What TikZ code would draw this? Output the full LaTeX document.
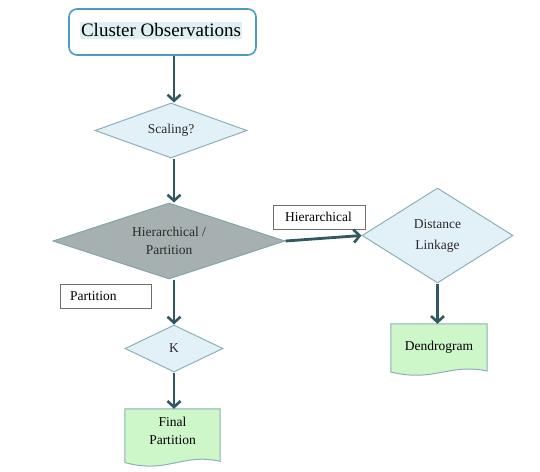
\documentclass[tikz,border=0pt]{standalone}
\usepackage{fontspec}
\setmainfont{Liberation Serif}
\usetikzlibrary{shapes.geometric,arrows.meta,calc}
\definecolor{arr}{HTML}{2F5863}
\definecolor{dfill}{HTML}{E2F1F7}
\definecolor{dborder}{HTML}{8EAFBA}
\definecolor{gfill}{HTML}{A6B0B0}
\definecolor{gborder}{HTML}{87A3A8}
\definecolor{docfill}{HTML}{CDF7C9}
\definecolor{titleborder}{HTML}{4D9CC0}
\definecolor{hl}{HTML}{DFF0F3}
\definecolor{labborder}{HTML}{6E6E6E}
\definecolor{txt}{HTML}{2A2A2A}
\begin{document}
\begin{tikzpicture}[x=1pt,y=-1pt,
  dia/.style={diamond,draw=dborder,fill=dfill,line width=1pt,inner sep=0pt,align=center,
    text=txt,font=\fontsize{13.5}{18}\selectfont},
  flow/.style={draw=arr,line width=2.8pt,-{Straight Barb[length=6pt,width=13pt,line width=2.6pt]}},
  lab/.style={draw=labborder,fill=white,line width=0.9pt,inner sep=0pt,anchor=north west},
  labtext/.style={font=\fontsize{13.5}{16}\selectfont,text=black,inner sep=0pt},
  docbox/.style={inner sep=0pt,align=center,font=\fontsize{13.5}{18}\selectfont,text=black}]
\useasboundingbox (0,0) rectangle (540,471);
\coordinate (spine) at (174,0);

% title box
\node[draw=titleborder,fill=white,line width=1.6pt,rounded corners=8pt,
      minimum width=187pt,minimum height=46pt,inner sep=0pt] (title) at (162.5,32) {};
\node[fill=hl,inner sep=1.5pt,font=\fontsize{19}{21}\selectfont,text=black] (titletext) at (161,30.5) {Cluster Observations};

% diamonds
\node[dia,aspect=2.76,minimum width=152pt,minimum height=55pt] (scale) at (171,130.5) {Scaling?};
\node[dia,aspect=3.05,fill=gfill,draw=gborder,minimum width=232pt,minimum height=76pt] (hp) at (169,241) {Hierarchical /\\Partition};
\node[dia,aspect=1.6,minimum width=151pt,minimum height=95pt] (dl) at (437.5,235.5) {Distance\\[3pt]Linkage};
\node[dia,aspect=2.1,minimum width=98pt,minimum height=47pt] (k) at (174,348.5) {K};

% documents
\node[docbox,minimum width=96pt,minimum height=52pt] (dendro) at (439,350) {};
\node[docbox,minimum width=95pt,minimum height=58pt] (final) at (172.5,438) {};
\foreach \d in {dendro,final}{
  \path let \p1=(\d.north west), \p2=(\d.south east) in
    [draw=dborder,fill=docfill,line width=1pt]
    (\x1,\y1) -- (\x2,\y1) -- (\x2,{\y2+0.1*(\y1-\y2)})
    .. controls ({\x2-0.4*(\x2-\x1)},{\y2+0.25*(\y1-\y2)}) and ({\x1+0.45*(\x2-\x1)},{\y2-0.12*(\y1-\y2)}) .. (\x1,{\y2+0.08*(\y1-\y2)}) -- cycle;
}
\node[docbox] (dtext) at (439,347) {Dendrogram};
\node[docbox] (ftext) at (172.5,431) {Final\\Partition};

% label boxes
\node[lab,minimum width=92pt,minimum height=24pt] (hlab) at (273,205) {};
\node[labtext] (hlabtext) at (318.5,217) {Hierarchical};
\node[lab,minimum width=91pt,minimum height=24pt] (plab) at (60,284) {};
\node[labtext,anchor=west] (plabtext) at (70,296) {Partition};

% connectors
\draw[flow] (title.south -| spine) -- (scale.north -| spine);
\draw[flow] (scale.south -| spine) -- (hp.north -| spine);
\draw[flow] (hp.east) -- (dl.west);
\draw[flow] (dl.south) -- (dendro.north -| dl.south);
\draw[flow] (hp.south -| spine) -- (k.north);
\draw[flow] (k.south) -- (final.north -| k.south);
\end{tikzpicture}
\end{document}
